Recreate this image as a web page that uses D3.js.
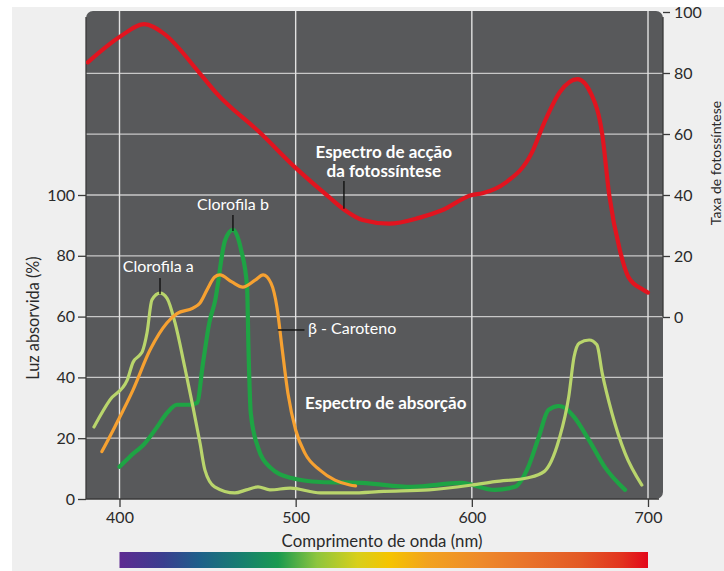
<!DOCTYPE html>
<html><head><meta charset="utf-8">
<script src="https://cdn.jsdelivr.net/npm/d3@7"></script>
<style>html,body{margin:0;padding:0;background:#fff;}svg{display:block;}</style>
</head><body>
<svg id="c" width="724" height="571"></svg>
<script>
// ---- data ----
const xTicks = [400, 500, 600, 700];
const leftTicks = [0, 20, 40, 60, 80, 100];
const rightTicks = [0, 20, 40, 60, 80, 100];
const gridValues = [20, 40, 60, 80, 100, 120, 140];

const actionWl  = [382, 400, 414, 425, 445, 455, 480, 500, 519, 528, 538, 553, 570, 583, 600, 606, 619, 634, 641, 650, 660, 668, 674, 678, 684, 689, 697, 700];
const actionVal = [83.5, 91.8, 96, 93, 80.3, 73.4, 60.3, 48.9, 39.3, 35, 31.8, 30.6, 32.5, 35, 40, 40.6, 44, 53.8, 63.6, 73.8, 78, 72.8, 60, 40, 22, 13, 9, 8];

const chlAWl  = [385.5, 394.6, 404.3, 407.7, 411.6, 413, 415.6, 418.4, 423, 427, 431.5, 437, 441.7, 445.7, 448.5, 454, 465.5, 472, 478.6, 485.4, 497, 514, 531, 550, 575.6, 600, 613, 632, 641, 649.4, 655, 658, 661, 666.6, 671, 674, 679.5, 687, 696.5];
const chlAVal = [23.7, 32.6, 39, 45, 47.4, 48.6, 54.6, 65.5, 67.7, 66, 58, 43.5, 30.3, 18.4, 9.5, 4, 2, 3, 4, 3, 3.6, 2, 2, 2.5, 3, 4.6, 5.7, 7, 9, 19.4, 33.6, 46.7, 51.3, 52.3, 50.7, 41.4, 28.3, 15, 4.6];

const chlBWl  = [400, 406, 414.5, 421, 427, 432.6, 440, 444, 447.4, 451, 454.2, 459.9, 464.4, 469, 472.4, 473.2, 474.5, 478.6, 485.4, 497, 514, 537.6, 566, 594, 613, 624.4, 632, 638, 643.5, 649.4, 652.8, 658, 666.5, 675.5, 687];
const chlBVal = [10.6, 14, 18.4, 23.4, 28.3, 31, 31, 31.6, 44.7, 58, 65, 85, 88.5, 82, 70, 50, 28.3, 17, 10.5, 7, 5.6, 5.3, 4, 5.3, 3, 4, 10.5, 20.4, 29.3, 30.6, 30, 27, 19.4, 10.5, 3];

const caroWl  = [390, 397.4, 407.7, 417.3, 427, 432.6, 441.7, 445.7, 449.6, 454, 457, 463.8, 470, 477, 481.5, 486, 489.4, 492.2, 495.6, 500, 505.3, 513.8, 522.3, 530.8, 534];
const caroVal = [15.6, 23.8, 35.9, 49, 58, 61, 62.8, 64.5, 68.7, 73, 73.7, 71.4, 69.7, 72, 73.7, 71, 63, 50, 34.8, 22.7, 15, 9.5, 6.2, 4.6, 4.3];

const spectrumWl    = [400, 425, 445, 470, 490, 512, 535, 553, 575, 605, 635, 661, 685, 700];
const spectrumColor = ["#5e2a92", "#3a3f8f", "#1e5f8a", "#17806e", "#1a9a50", "#8dc53e", "#d8cf1a", "#f5c400", "#f2a21e", "#ee8a2a", "#e8702a", "#e35a25", "#e2331e", "#e3071a"];

const labels = {
  xTitle: "Comprimento de onda (nm)",
  yLeft: "Luz absorvida (%)",
  yRight: "Taxa de fotossíntese",
  action1: "Espectro de acção",
  action2: "da fotossíntese",
  absorb: "Espectro de absorção",
  chlA: "Clorofila a",
  chlB: "Clorofila b",
  caro: "β - Caroteno"
};

// ---- layout ----
const svg = d3.select("#c");
const panel = {left: 86, right: 663, top: 11, bottom: 499};
const x = d3.scaleLinear().domain([400, 700]).range([119.5, 648]);
const yL = d3.scaleLinear().domain([0, 100]).range([499, 195]);
const yR = d3.scaleLinear().domain([0, 100]).range([317, 12]);
const font = "Lato, 'Open Sans', sans-serif";
const txt = "#2a2a2a";

svg.append("rect").attr("x", 0).attr("y", 0).attr("width", 724).attr("height", 571).attr("fill", "#fff");
svg.append("rect").attr("x", 12).attr("y", 7).attr("width", 712).attr("height", 564).attr("fill", "#efefef");

svg.append("rect").attr("x", panel.left).attr("y", panel.top)
  .attr("width", panel.right - panel.left).attr("height", panel.bottom - panel.top)
  .attr("rx", 7).attr("fill", "#58595b");
svg.append("rect").attr("x", panel.left).attr("y", panel.bottom - 10).attr("width", 10).attr("height", 10).attr("fill", "#58595b");

// gridlines
svg.append("g").selectAll("line").data(gridValues).join("line")
  .attr("x1", panel.left).attr("x2", panel.right)
  .attr("y1", d => yL(d)).attr("y2", d => yL(d))
  .attr("stroke", "#c8c8c8").attr("stroke-width", 1.3);
svg.append("g").selectAll("line").data(xTicks).join("line")
  .attr("x1", d => x(d)).attr("x2", d => x(d))
  .attr("y1", panel.top).attr("y2", panel.bottom)
  .attr("stroke", "#e2e2e2").attr("stroke-width", 1.4);

// axes
const axStyle = g => {
  g.selectAll("path").attr("stroke", "#3a3a3a").attr("stroke-width", 1.3);
  g.selectAll(".tick line").attr("stroke", "#3a3a3a").attr("stroke-width", 1.3);
  g.selectAll("text").attr("fill", txt).attr("font-family", font).attr("font-size", 16);
};
svg.append("g").attr("transform", `translate(${panel.left},0)`)
  .call(d3.axisLeft(yL).tickValues(leftTicks).tickSize(8).tickSizeOuter(0).tickPadding(3))
  .call(axStyle).call(g => g.select("path").attr("d", `M0,${panel.bottom}V${panel.top + 6}`));
svg.append("g").attr("transform", `translate(${panel.right},0)`)
  .call(d3.axisRight(yR).tickValues(rightTicks).tickSize(7).tickSizeOuter(0).tickPadding(4))
  .call(axStyle).call(g => g.select("path").attr("d", `M0,${yR(0)}V${panel.top + 6}`));
svg.append("g").attr("transform", `translate(0,${panel.bottom})`)
  .call(d3.axisBottom(x).tickValues(xTicks).tickSize(8).tickSizeOuter(0).tickPadding(5).tickFormat(d3.format("d")))
  .call(axStyle).call(g => g.select("path").attr("d", `M${panel.left},0H${panel.right - 4}`));

// axis titles
svg.append("text").attr("transform", "translate(39,318) rotate(-90)")
  .attr("text-anchor", "middle").attr("font-family", font).attr("font-size", 16.3).attr("fill", txt).text(labels.yLeft);
svg.append("text").attr("transform", "translate(721,163) rotate(-90)")
  .attr("text-anchor", "middle").attr("font-family", font).attr("font-size", 14).attr("fill", txt).text(labels.yRight);
svg.append("text").attr("x", 382).attr("y", 547)
  .attr("text-anchor", "middle").attr("font-family", font).attr("font-size", 16.8).attr("fill", txt).text(labels.xTitle);

// spectrum bar
const defs = svg.append("defs");
const grad = defs.append("linearGradient").attr("id", "spec").attr("gradientUnits", "userSpaceOnUse")
  .attr("x1", x(400)).attr("x2", x(700)).attr("y1", 0).attr("y2", 0);
grad.selectAll("stop").data(spectrumWl).join("stop")
  .attr("offset", d => (x(d) - x(400)) / (x(700) - x(400)))
  .attr("stop-color", (d, i) => spectrumColor[i]);
svg.append("rect").attr("x", x(400)).attr("y", 552).attr("width", x(700) - x(400)).attr("height", 16).attr("fill", "url(#spec)");

// curves
const clip = defs.append("clipPath").attr("id", "pclip");
clip.append("rect").attr("x", panel.left).attr("y", panel.top).attr("width", panel.right - panel.left).attr("height", panel.bottom - panel.top);
const plot = svg.append("g").attr("clip-path", "url(#pclip)");
function curve(wl, vals, ys, color, w) {
  const pts = wl.map((d, i) => [d, vals[i]]);
  plot.append("path").datum(pts)
    .attr("d", d3.line().x(d => x(d[0])).y(d => ys(d[1])).curve(d3.curveMonotoneX))
    .attr("fill", "none").attr("stroke", color).attr("stroke-width", w)
    .attr("stroke-linecap", "round").attr("stroke-linejoin", "round");
}
curve(chlBWl, chlBVal, yL, "#1ea444", 4.2);
curve(chlAWl, chlAVal, yL, "#b9d56c", 3.2);
curve(caroWl, caroVal, yL, "#f6a131", 3.2);
curve(actionWl, actionVal, yR, "#e1141f", 4.2);

// annotations
const ann = svg.append("g").attr("font-family", font).attr("fill", "#fff");
function leader(x1, y1, x2, y2) {
  svg.append("line").attr("x1", x1).attr("y1", y1).attr("x2", x2).attr("y2", y2)
    .attr("stroke", "#111").attr("stroke-width", 1.4);
}
ann.append("text").attr("x", x(550)).attr("y", 158).attr("text-anchor", "middle")
  .attr("font-size", 17).attr("font-weight", 700).text(labels.action1);
ann.append("text").attr("x", x(550)).attr("y", 177).attr("text-anchor", "middle")
  .attr("font-size", 17).attr("font-weight", 700).text(labels.action2);
leader(x(527.4), 181, x(527.4), yR(35.5));

ann.append("text").attr("x", x(505.3)).attr("y", 409)
  .attr("font-size", 17).attr("font-weight", 700).text(labels.absorb);

ann.append("text").attr("x", x(464.4)).attr("y", 210).attr("text-anchor", "middle")
  .attr("font-size", 16).text(labels.chlB);
leader(x(464.4), 215, x(464.4), yL(88.5) + 1);

ann.append("text").attr("x", x(422)).attr("y", 272).attr("text-anchor", "middle")
  .attr("font-size", 16).text(labels.chlA);
leader(x(423), 278, x(423), yL(67.7) + 1);

ann.append("text").attr("x", x(507)).attr("y", 334)
  .attr("font-size", 16).text(labels.caro);
leader(x(489.8), yL(55.6), x(505), yL(55.6));
</script>
</body></html>
